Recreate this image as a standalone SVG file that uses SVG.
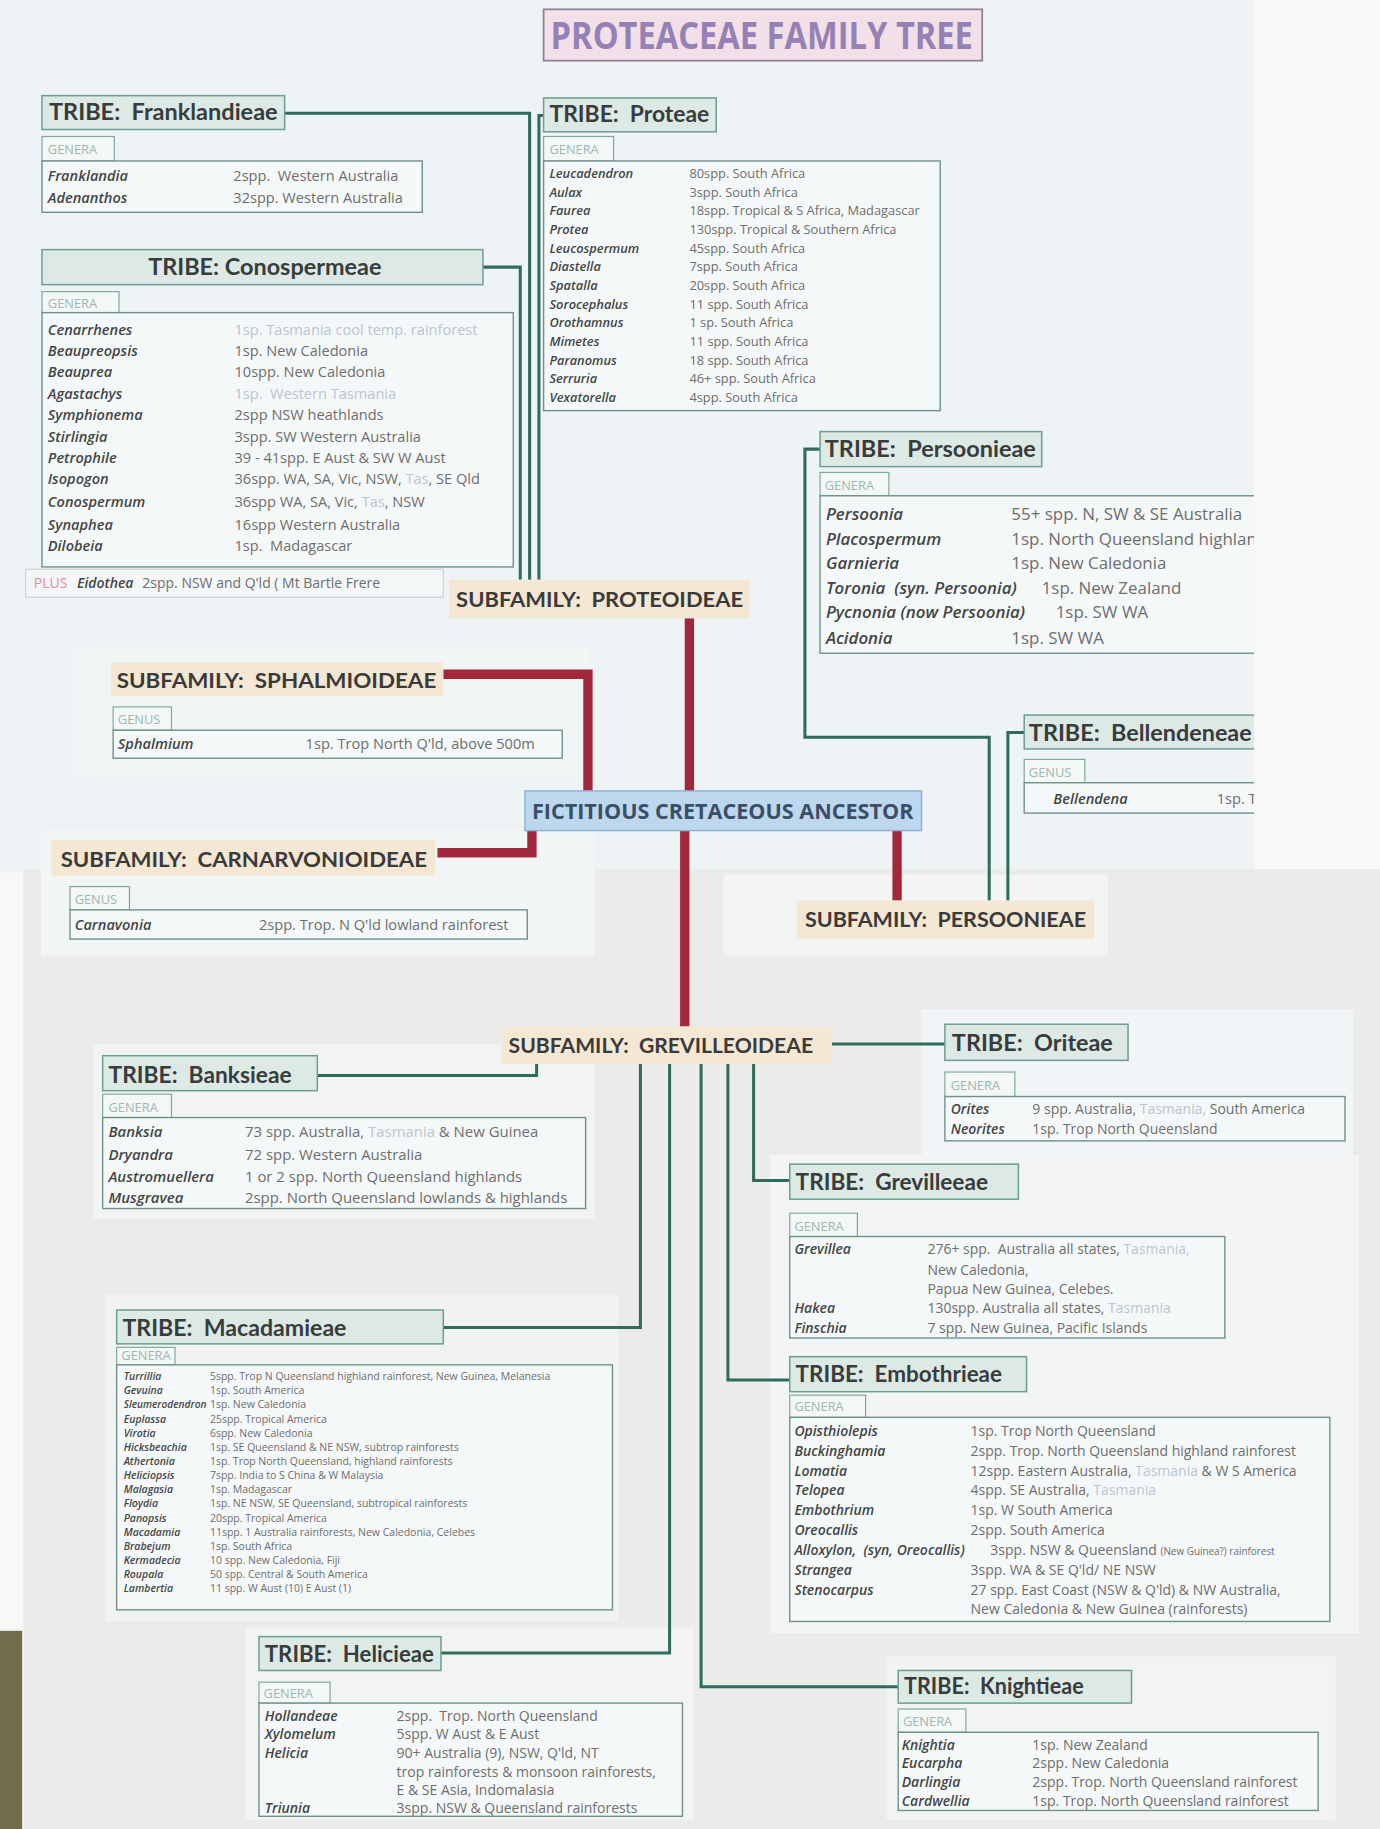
<svg xmlns="http://www.w3.org/2000/svg" width="1380" height="1829" viewBox="0 0 1380 1829">
<style>
text{font-family:"Open Sans",Lato,"Liberation Sans",sans-serif;white-space:pre}
.tt{fill:#dde9e5;stroke:#6e9e94;stroke-width:1.3}
.tab{fill:#f3f7f6;stroke:#7ea69d;stroke-width:1}
.tbl{fill:#f5f8f8;stroke:#6f918b;stroke-width:1.2}
.sf{fill:#f4e7d4}
.h{font-family:Lato,"Open Sans",sans-serif;font-weight:700;font-size:19px;fill:#383c3c}
.s{font-family:Lato,"Open Sans",sans-serif;font-weight:700;font-size:18px;fill:#3a3a3a}
.g{font-size:11px;fill:#9db8b2}
.n{font-weight:600;font-style:italic;fill:#434646}
.d{fill:#6e6e6e}
.t{fill:#b9c6d2}
.f14{font-size:14.5px}
.f13{font-size:12.8px}
.f12{font-size:12.5px}
.f11{font-size:12px}
.f10{font-size:11px}
.f8{font-size:9px}
.sm{font-size:8.5px}
.gl{fill:none;stroke:#2f6c5d;stroke-width:2.6}
.rl{fill:none;stroke:#a0283a;stroke-width:8}
</style>
<defs>
<clipPath id="topclip"><rect x="0" y="0" width="1075" height="748"/></clipPath>
</defs>
<g transform="scale(1.16653)">
<g id="background">
<rect x="0" y="0" width="1183" height="1568" fill="#f8f8f8"/>
<rect x="0" y="0" width="1075" height="748" fill="#eef3f5"/>
<rect x="20" y="745" width="1163" height="823" fill="#ebebe9"/>
<rect x="60" y="555" width="445" height="110" fill="#f2f5f6"/>
<rect x="35" y="710" width="475" height="110" fill="#f2f5f6"/>
<rect x="620" y="750" width="330" height="70" fill="#f3f4f4"/>
<rect x="80" y="895" width="430" height="150" fill="#f2f4f4"/>
<rect x="790" y="865" width="370" height="125" fill="#f2f5f7"/>
<rect x="660" y="990" width="505" height="410" fill="#f3f4f5"/>
<rect x="90" y="1110" width="440" height="280" fill="#f1f3f3"/>
<rect x="210" y="1395" width="385" height="165" fill="#f2f3f3"/>
<rect x="760" y="1420" width="385" height="140" fill="#f2f3f3"/>
<rect x="0" y="1398" width="19" height="170" fill="#716c4c"/>
</g>

<g id="title">
<rect x="466" y="8" width="376" height="44" fill="#f2dfe8" stroke="#8f8098" stroke-width="1.5"/>
<text x="472" y="42" font-family="Lato, 'Open Sans', sans-serif" font-size="32" font-weight="700" fill="#9581b5" textLength="362" lengthAdjust="spacingAndGlyphs">PROTEACEAE FAMILY TREE</text>
</g>

<g id="connectors">
<path class="gl" d="M414,229 H446 V497"/>
<path class="gl" d="M244,97 H454 V497"/>
<path class="gl" d="M466,99 H462 V497"/>
<path class="gl" d="M703,385 H690 V632 H848 V772"/>
<path class="gl" d="M878,628 H864 V772"/>
<path class="gl" d="M272,922 H460 V912"/>
<path class="gl" d="M713,895 H810"/>
<path class="gl" d="M380,1138 H549 V912"/>
<path class="gl" d="M378,1417 H574 V912"/>
<path class="gl" d="M770,1446 H601 V912"/>
<path class="gl" d="M677,1183 H624 V912"/>
<path class="gl" d="M677,1012 H646 V912"/>
<path class="rl" d="M380,578 H504 V678"/>
<path class="rl" d="M591,530 V678"/>
<path class="rl" d="M456,712 V731 H375"/>
<path class="rl" d="M587,712 V880"/>
<path class="rl" d="M769,712 V772"/>
</g>

<g id="tribe-franklandieae">
<rect class="tt" x="36" y="82" width="208" height="29"/>
<text class="h" x="42" y="103" textLength="196" lengthAdjust="spacingAndGlyphs">TRIBE:  Franklandieae</text>
<rect class="tab" x="36" y="117" width="62" height="21"/>
<text class="g" x="41" y="132">GENERA</text>
<rect class="tbl" x="36" y="138" width="326" height="44"/>
<text class="f12"><tspan class="n" x="41" y="155">Franklandia</tspan><tspan class="d" x="200">2spp.  Western Australia</tspan></text>
<text class="f12"><tspan class="n" x="41" y="174">Adenanthos</tspan><tspan class="d" x="200">32spp. Western Australia</tspan></text>
</g>

<g id="tribe-conospermeae">
<rect class="tt" x="36" y="214" width="378" height="30"/>
<text class="h" x="227" y="236" text-anchor="middle" textLength="200" lengthAdjust="spacingAndGlyphs">TRIBE: Conospermeae</text>
<rect class="tab" x="36" y="250" width="66" height="18"/>
<text class="g" x="41" y="264">GENERA</text>
<rect class="tbl" x="36" y="268" width="404" height="218"/>
<text class="f12"><tspan class="n" x="41" y="287">Cenarrhenes</tspan><tspan class="t" x="201">1sp. Tasmania cool temp. rainforest</tspan></text>
<text class="f12"><tspan class="n" x="41" y="305">Beaupreopsis</tspan><tspan class="d" x="201">1sp. New Caledonia</tspan></text>
<text class="f12"><tspan class="n" x="41" y="323">Beauprea</tspan><tspan class="d" x="201">10spp. New Caledonia</tspan></text>
<text class="f12"><tspan class="n" x="41" y="342">Agastachys</tspan><tspan class="t" x="201">1sp.  Western Tasmania</tspan></text>
<text class="f12"><tspan class="n" x="41" y="360">Symphionema</tspan><tspan class="d" x="201">2spp NSW heathlands</tspan></text>
<text class="f12"><tspan class="n" x="41" y="379">Stirlingia</tspan><tspan class="d" x="201">3spp. SW Western Australia</tspan></text>
<text class="f12"><tspan class="n" x="41" y="397">Petrophile</tspan><tspan class="d" x="201">39 - 41spp. E Aust &amp; SW W Aust</tspan></text>
<text class="f12"><tspan class="n" x="41" y="415">Isopogon</tspan><tspan class="d" x="201">36spp. WA, SA, Vic, NSW, </tspan><tspan class="t">Tas</tspan><tspan class="d">, SE Qld</tspan></text>
<text class="f12"><tspan class="n" x="41" y="435">Conospermum</tspan><tspan class="d" x="201">36spp WA, SA, Vic, </tspan><tspan class="t">Tas</tspan><tspan class="d">, NSW</tspan></text>
<text class="f12"><tspan class="n" x="41" y="454">Synaphea</tspan><tspan class="d" x="201">16spp Western Australia</tspan></text>
<text class="f12"><tspan class="n" x="41" y="472">Dilobeia</tspan><tspan class="d" x="201">1sp.  Madagascar</tspan></text>
<rect x="22" y="488" width="358" height="24" fill="#f4f7f7" stroke="#c9d4d2" stroke-width="1"/>
<text class="f11"><tspan x="29" y="504" fill="#e38a9c">PLUS</tspan><tspan class="n" x="66">Eidothea</tspan><tspan class="d" x="122">2spp. NSW and Q'ld ( Mt Bartle Frere</tspan></text>
</g>

<g id="tribe-proteae">
<rect class="tt" x="466" y="84" width="148" height="29"/>
<text class="h" x="471" y="105" textLength="137" lengthAdjust="spacingAndGlyphs">TRIBE:  Proteae</text>
<rect class="tab" x="466" y="117" width="60" height="21"/>
<text class="g" x="471" y="132">GENERA</text>
<rect class="tbl" x="466" y="138" width="340" height="214"/>
<text class="f10"><tspan class="n" x="471" y="152.5">Leucadendron</tspan><tspan class="d" x="591">80spp. South Africa</tspan></text>
<text class="f10"><tspan class="n" x="471" y="168.5">Aulax</tspan><tspan class="d" x="591">3spp. South Africa</tspan></text>
<text class="f10"><tspan class="n" x="471" y="184.5">Faurea</tspan><tspan class="d" x="591">18spp. Tropical &amp; S Africa, Madagascar</tspan></text>
<text class="f10"><tspan class="n" x="471" y="200.5">Protea</tspan><tspan class="d" x="591">130spp. Tropical &amp; Southern Africa</tspan></text>
<text class="f10"><tspan class="n" x="471" y="216.5">Leucospermum</tspan><tspan class="d" x="591">45spp. South Africa</tspan></text>
<text class="f10"><tspan class="n" x="471" y="232.5">Diastella</tspan><tspan class="d" x="591">7spp. South Africa</tspan></text>
<text class="f10"><tspan class="n" x="471" y="248.5">Spatalla</tspan><tspan class="d" x="591">20spp. South Africa</tspan></text>
<text class="f10"><tspan class="n" x="471" y="264.5">Sorocephalus</tspan><tspan class="d" x="591">11 spp. South Africa</tspan></text>
<text class="f10"><tspan class="n" x="471" y="280.5">Orothamnus</tspan><tspan class="d" x="591">1 sp. South Africa</tspan></text>
<text class="f10"><tspan class="n" x="471" y="296.5">Mimetes</tspan><tspan class="d" x="591">11 spp. South Africa</tspan></text>
<text class="f10"><tspan class="n" x="471" y="312.5">Paranomus</tspan><tspan class="d" x="591">18 spp. South Africa</tspan></text>
<text class="f10"><tspan class="n" x="471" y="328.5">Serruria</tspan><tspan class="d" x="591">46+ spp. South Africa</tspan></text>
<text class="f10"><tspan class="n" x="471" y="344.5">Vexatorella</tspan><tspan class="d" x="591">4spp. South Africa</tspan></text>
</g>

<g id="subfamily-proteoideae">
<rect class="sf" x="385" y="497" width="258" height="33"/>
<text class="s" x="391" y="520" textLength="246" lengthAdjust="spacingAndGlyphs">SUBFAMILY:  PROTEOIDEAE</text>
</g>

<g id="tribe-persoonieae" clip-path="url(#topclip)">
<rect class="tt" x="703" y="370" width="190" height="30"/>
<text class="h" x="707" y="392" textLength="181" lengthAdjust="spacingAndGlyphs">TRIBE:  Persoonieae</text>
<rect class="tab" x="703" y="405" width="59" height="20"/>
<text class="g" x="707" y="420">GENERA</text>
<rect class="tbl" x="703" y="425" width="400" height="135"/>
<text class="f14"><tspan class="n" x="708" y="446">Persoonia</tspan><tspan class="d" x="867">55+ spp. N, SW &amp; SE Australia</tspan></text>
<text class="f14"><tspan class="n" x="708" y="467">Placospermum</tspan><tspan class="d" x="867">1sp. North Queensland highlands</tspan></text>
<text class="f14"><tspan class="n" x="708" y="488">Garnieria</tspan><tspan class="d" x="867">1sp. New Caledonia</tspan></text>
<text class="f14"><tspan class="n" x="708" y="509">Toronia  (syn. Persoonia)</tspan><tspan class="d" x="893">1sp. New Zealand</tspan></text>
<text class="f14"><tspan class="n" x="708" y="530">Pycnonia (now Persoonia)</tspan><tspan class="d" x="905">1sp. SW WA</tspan></text>
<text class="f14"><tspan class="n" x="708" y="552">Acidonia</tspan><tspan class="d" x="867">1sp. SW WA</tspan></text>
</g>

<g id="tribe-bellendeneae" clip-path="url(#topclip)">
<rect class="tt" x="878" y="613" width="210" height="29"/>
<text class="h" x="882" y="635" textLength="191" lengthAdjust="spacingAndGlyphs">TRIBE:  Bellendeneae</text>
<rect class="tab" x="878" y="651" width="52" height="20"/>
<text class="g" x="882" y="666">GENUS</text>
<rect class="tbl" x="878" y="671" width="210" height="26"/>
<text class="f12"><tspan class="n" x="903" y="689">Bellendena</tspan><tspan class="d" x="1043">1sp. Tasmania</tspan></text>
</g>

<g id="subfamily-sphalmioideae">
<rect class="sf" x="95" y="568" width="285" height="29"/>
<text class="s" x="100" y="590" textLength="274" lengthAdjust="spacingAndGlyphs">SUBFAMILY:  SPHALMIOIDEAE</text>
<rect class="tab" x="97" y="606" width="50" height="20"/>
<text class="g" x="101" y="621">GENUS</text>
<rect class="tbl" x="97" y="626" width="385" height="24"/>
<text class="f12"><tspan class="n" x="101" y="642">Sphalmium</tspan><tspan class="d" x="262">1sp. Trop North Q'ld, above 500m</tspan></text>
</g>

<g id="ancestor">
<rect x="450" y="678" width="340" height="34" fill="#bdd7ef" stroke="#8eb1d2" stroke-width="1.2"/>
<text x="456" y="702" font-family="Lato, 'Open Sans', sans-serif" font-size="19" font-weight="700" fill="#3c4e66" textLength="327" lengthAdjust="spacingAndGlyphs">FICTITIOUS CRETACEOUS ANCESTOR</text>
</g>

<g id="subfamily-carnarvonioideae">
<rect class="sf" x="44" y="720" width="329" height="31"/>
<text class="s" x="52" y="743" textLength="314" lengthAdjust="spacingAndGlyphs">SUBFAMILY:  CARNARVONIOIDEAE</text>
<rect class="tab" x="60" y="760" width="51" height="20"/>
<text class="g" x="64" y="775">GENUS</text>
<rect class="tbl" x="60" y="780" width="392" height="25"/>
<text class="f12"><tspan class="n" x="64" y="797">Carnavonia</tspan><tspan class="d" x="222">2spp. Trop. N Q'ld lowland rainforest</tspan></text>
</g>

<g id="subfamily-persoonieae">
<rect class="sf" x="683" y="772" width="255" height="33"/>
<text class="s" x="690" y="795" textLength="241" lengthAdjust="spacingAndGlyphs">SUBFAMILY:  PERSOONIEAE</text>
</g>

<g id="subfamily-grevilleoideae">
<rect class="sf" x="430" y="880" width="283" height="32"/>
<text class="s" x="436" y="903" textLength="261" lengthAdjust="spacingAndGlyphs">SUBFAMILY:  GREVILLEOIDEAE</text>
</g>

<g id="tribe-banksieae">
<rect class="tt" x="88" y="905" width="184" height="30"/>
<text class="h" x="93" y="928" textLength="157" lengthAdjust="spacingAndGlyphs">TRIBE:  Banksieae</text>
<rect class="tab" x="88" y="938" width="59" height="20"/>
<text class="g" x="93" y="953">GENERA</text>
<rect class="tbl" x="88" y="958" width="414" height="78"/>
<text class="f13"><tspan class="n" x="93" y="975">Banksia</tspan><tspan class="d" x="210">73 spp. Australia, </tspan><tspan class="t">Tasmania</tspan><tspan class="d"> &amp; New Guinea</tspan></text>
<text class="f13"><tspan class="n" x="93" y="994">Dryandra</tspan><tspan class="d" x="210">72 spp. Western Australia</tspan></text>
<text class="f13"><tspan class="n" x="93" y="1013">Austromuellera</tspan><tspan class="d" x="210">1 or 2 spp. North Queensland highlands</tspan></text>
<text class="f13"><tspan class="n" x="93" y="1031">Musgravea</tspan><tspan class="d" x="210">2spp. North Queensland lowlands &amp; highlands</tspan></text>
</g>

<g id="tribe-oriteae">
<rect class="tt" x="810" y="878" width="157" height="31"/>
<text class="h" x="816" y="901" textLength="138" lengthAdjust="spacingAndGlyphs">TRIBE:  Oriteae</text>
<rect class="tab" x="810" y="919" width="60" height="21"/>
<text class="g" x="815" y="934">GENERA</text>
<rect class="tbl" x="810" y="940" width="343" height="38"/>
<text class="f11"><tspan class="n" x="815" y="955">Orites</tspan><tspan class="d" x="885">9 spp. Australia, </tspan><tspan class="t">Tasmania,</tspan><tspan class="d"> South America</tspan></text>
<text class="f11"><tspan class="n" x="815" y="972">Neorites</tspan><tspan class="d" x="885">1sp. Trop North Queensland</tspan></text>
</g>

<g id="tribe-grevilleeae">
<rect class="tt" x="677" y="998" width="196" height="30"/>
<text class="h" x="682" y="1020" textLength="165" lengthAdjust="spacingAndGlyphs">TRIBE:  Grevilleeae</text>
<rect class="tab" x="677" y="1040" width="58" height="20"/>
<text class="g" x="681" y="1055">GENERA</text>
<rect class="tbl" x="677" y="1060" width="373" height="87"/>
<text class="f11"><tspan class="n" x="681" y="1075">Grevillea</tspan><tspan class="d" x="795">276+ spp.  Australia all states, </tspan><tspan class="t">Tasmania,</tspan></text>
<text class="f11 d" x="795" y="1093">New Caledonia,</text>
<text class="f11 d" x="795" y="1109">Papua New Guinea, Celebes.</text>
<text class="f11"><tspan class="n" x="681" y="1126">Hakea</tspan><tspan class="d" x="795">130spp. Australia all states, </tspan><tspan class="t">Tasmania</tspan></text>
<text class="f11"><tspan class="n" x="681" y="1143">Finschia</tspan><tspan class="d" x="795">7 spp. New Guinea, Pacific Islands</tspan></text>
</g>

<g id="tribe-macadamieae">
<rect class="tt" x="100" y="1123" width="280" height="29"/>
<text class="h" x="105" y="1145" textLength="192" lengthAdjust="spacingAndGlyphs">TRIBE:  Macadamieae</text>
<rect class="tab" x="100" y="1155" width="50" height="15"/>
<text class="g" x="104" y="1166" font-size="8.5">GENERA</text>
<rect class="tbl" x="100" y="1170" width="425" height="210"/>
<text class="f8"><tspan class="n" x="106" y="1183">Turrillia</tspan><tspan class="d" x="180">5spp. Trop N Queensland highland rainforest, New Guinea, Melanesia</tspan></text>
<text class="f8"><tspan class="n" x="106" y="1195">Gevuina</tspan><tspan class="d" x="180">1sp. South America</tspan></text>
<text class="f8"><tspan class="n" x="106" y="1207" textLength="71" lengthAdjust="spacingAndGlyphs">Sleumerodendron</tspan><tspan class="d" x="180">1sp. New Caledonia</tspan></text>
<text class="f8"><tspan class="n" x="106" y="1219.5">Euplassa</tspan><tspan class="d" x="180">25spp. Tropical America</tspan></text>
<text class="f8"><tspan class="n" x="106" y="1231.5">Virotia</tspan><tspan class="d" x="180">6spp. New Caledonia</tspan></text>
<text class="f8"><tspan class="n" x="106" y="1243.5">Hicksbeachia</tspan><tspan class="d" x="180">1sp. SE Queensland &amp; NE NSW, subtrop rainforests</tspan></text>
<text class="f8"><tspan class="n" x="106" y="1256">Athertonia</tspan><tspan class="d" x="180">1sp. Trop North Queensland, highland rainforests</tspan></text>
<text class="f8"><tspan class="n" x="106" y="1268">Heliciopsis</tspan><tspan class="d" x="180">7spp. India to S China &amp; W Malaysia</tspan></text>
<text class="f8"><tspan class="n" x="106" y="1280">Malagasia</tspan><tspan class="d" x="180">1sp. Madagascar</tspan></text>
<text class="f8"><tspan class="n" x="106" y="1292">Floydia</tspan><tspan class="d" x="180">1sp. NE NSW, SE Queensland, subtropical rainforests</tspan></text>
<text class="f8"><tspan class="n" x="106" y="1304.5">Panopsis</tspan><tspan class="d" x="180">20spp. Tropical America</tspan></text>
<text class="f8"><tspan class="n" x="106" y="1316.5">Macadamia</tspan><tspan class="d" x="180">11spp. 1 Australia rainforests, New Caledonia, Celebes</tspan></text>
<text class="f8"><tspan class="n" x="106" y="1328.5">Brabejum</tspan><tspan class="d" x="180">1sp. South Africa</tspan></text>
<text class="f8"><tspan class="n" x="106" y="1341">Kermadecia</tspan><tspan class="d" x="180">10 spp. New Caledonia, Fiji</tspan></text>
<text class="f8"><tspan class="n" x="106" y="1353">Roupala</tspan><tspan class="d" x="180">50 spp. Central &amp; South America</tspan></text>
<text class="f8"><tspan class="n" x="106" y="1365">Lambertia</tspan><tspan class="d" x="180">11 spp. W Aust (10) E Aust (1)</tspan></text>
</g>

<g id="tribe-embothrieae">
<rect class="tt" x="677" y="1163" width="203" height="30"/>
<text class="h" x="682" y="1185" textLength="177" lengthAdjust="spacingAndGlyphs">TRIBE:  Embothrieae</text>
<rect class="tab" x="677" y="1196" width="65" height="19"/>
<text class="g" x="681" y="1210">GENERA</text>
<rect class="tbl" x="677" y="1215" width="463" height="175"/>
<text class="f11"><tspan class="n" x="681" y="1231">Opisthiolepis</tspan><tspan class="d" x="832">1sp. Trop North Queensland</tspan></text>
<text class="f11"><tspan class="n" x="681" y="1248">Buckinghamia</tspan><tspan class="d" x="832">2spp. Trop. North Queensland highland rainforest</tspan></text>
<text class="f11"><tspan class="n" x="681" y="1265">Lomatia</tspan><tspan class="d" x="832">12spp. Eastern Australia, </tspan><tspan class="t">Tasmania</tspan><tspan class="d"> &amp; W S America</tspan></text>
<text class="f11"><tspan class="n" x="681" y="1282">Telopea</tspan><tspan class="d" x="832">4spp. SE Australia, </tspan><tspan class="t">Tasmania</tspan></text>
<text class="f11"><tspan class="n" x="681" y="1299">Embothrium</tspan><tspan class="d" x="832">1sp. W South America</tspan></text>
<text class="f11"><tspan class="n" x="681" y="1316">Oreocallis</tspan><tspan class="d" x="832">2spp. South America</tspan></text>
<text class="f11"><tspan class="n" x="681" y="1333">Alloxylon,  (syn, Oreocallis)</tspan><tspan class="d" x="849">3spp. NSW &amp; Queensland </tspan><tspan class="d sm">(New Guinea?) rainforest</tspan></text>
<text class="f11"><tspan class="n" x="681" y="1350">Strangea</tspan><tspan class="d" x="832">3spp. WA &amp; SE Q'ld/ NE NSW</tspan></text>
<text class="f11"><tspan class="n" x="681" y="1367">Stenocarpus</tspan><tspan class="d" x="832">27 spp. East Coast (NSW &amp; Q'ld) &amp; NW Australia,</tspan></text>
<text class="f11 d" x="832" y="1384">New Caledonia &amp; New Guinea (rainforests)</text>
</g>

<g id="tribe-helicieae">
<rect class="tt" x="222" y="1403" width="156" height="29"/>
<text class="h" x="227" y="1425" textLength="145" lengthAdjust="spacingAndGlyphs">TRIBE:  Helicieae</text>
<rect class="tab" x="222" y="1442" width="61" height="18"/>
<text class="g" x="226" y="1456">GENERA</text>
<rect class="tbl" x="222" y="1460" width="363" height="97"/>
<text class="f11"><tspan class="n" x="227" y="1475">Hollandeae</tspan><tspan class="d" x="340">2spp.  Trop. North Queensland</tspan></text>
<text class="f11"><tspan class="n" x="227" y="1491">Xylomelum</tspan><tspan class="d" x="340">5spp. W Aust &amp; E Aust</tspan></text>
<text class="f11"><tspan class="n" x="227" y="1507">Helicia</tspan><tspan class="d" x="340">90+ Australia (9), NSW, Q'ld, NT</tspan></text>
<text class="f11 d" x="340" y="1523">trop rainforests &amp; monsoon rainforests,</text>
<text class="f11 d" x="340" y="1539">E &amp; SE Asia, Indomalasia</text>
<text class="f11"><tspan class="n" x="227" y="1554">Triunia</tspan><tspan class="d" x="340">3spp. NSW &amp; Queensland rainforests</tspan></text>
</g>

<g id="tribe-knightieae">
<rect class="tt" x="770" y="1432" width="200" height="28"/>
<text class="h" x="775" y="1452" textLength="154" lengthAdjust="spacingAndGlyphs">TRIBE:  Knightieae</text>
<rect class="tab" x="770" y="1465" width="58" height="20"/>
<text class="g" x="774" y="1480">GENERA</text>
<rect class="tbl" x="770" y="1485" width="360" height="67"/>
<text class="f11"><tspan class="n" x="773" y="1500">Knightia</tspan><tspan class="d" x="885">1sp. New Zealand</tspan></text>
<text class="f11"><tspan class="n" x="773" y="1516">Eucarpha</tspan><tspan class="d" x="885">2spp. New Caledonia</tspan></text>
<text class="f11"><tspan class="n" x="773" y="1532">Darlingia</tspan><tspan class="d" x="885">2spp. Trop. North Queensland rainforest</tspan></text>
<text class="f11"><tspan class="n" x="773" y="1548">Cardwellia</tspan><tspan class="d" x="885">1sp. Trop. North Queensland rainforest</tspan></text>
</g>
</g>
</svg>
